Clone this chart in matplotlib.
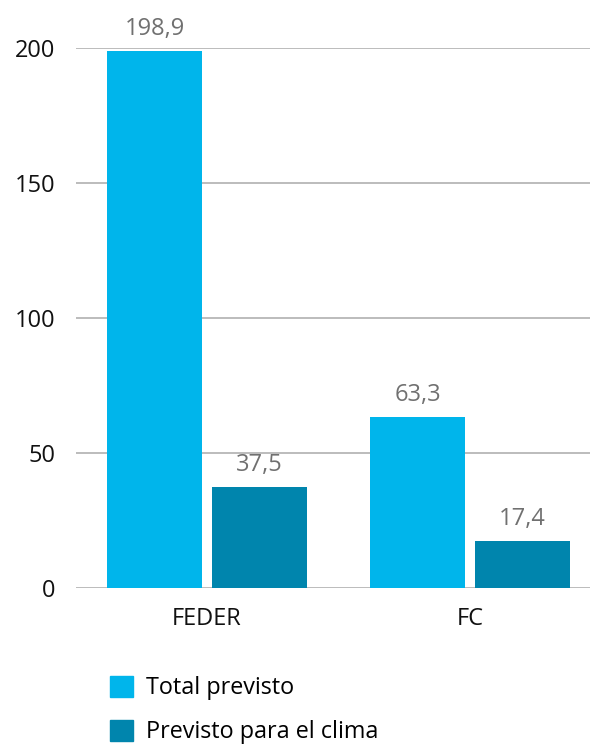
import numpy as np
import matplotlib.pyplot as plt
from matplotlib.patches import Patch

# datos
fondos = ['FEDER', 'FC']
total_previsto = [198.9, 63.3]
previsto_clima = [37.5, 17.4]
series = ['Total previsto', 'Previsto para el clima']
colores = ['#00B5EB', '#0085AD']

plt.rcParams['font.family'] = ['Open Sans', 'DejaVu Sans']

fig = plt.figure(figsize=(5.9, 7.45), dpi=100)
ax = fig.add_axes([0.129, 0.2107, 0.871, 0.7249])

x = np.arange(len(fondos))
w = 0.361
off = 0.2
b1 = ax.bar(x - off, total_previsto, w, color=colores[0], zorder=3)
b2 = ax.bar(x + off, previsto_clima, w, color=colores[1], zorder=3)

for bars, vals in [(b1, total_previsto), (b2, previsto_clima)]:
    for b, v in zip(bars, vals):
        ax.text(b.get_x() + b.get_width() / 2, v + 6, f'{v:.1f}'.replace('.', ','),
                ha='center', va='baseline', fontsize=17, color='#707070', clip_on=False)

ax.set_ylim(0, 200)
ax.set_xlim(-0.498, 1.456)
ax.set_yticks([0, 50, 100, 150, 200])
ax.set_xticks(x)
ax.set_xticklabels(fondos)
ax.tick_params(axis='both', length=0, labelsize=17, colors='#111111')
ax.tick_params(axis='y', pad=15)
ax.tick_params(axis='x', pad=14)
ax.grid(axis='y', color='#b0b0b0', linewidth=1.2, zorder=0)
ax.set_axisbelow(True)
for s in ax.spines.values():
    s.set_visible(False)

handles = [Patch(color=c) for c in colores]
fig.legend(handles, series, loc='upper left', bbox_to_anchor=(0.186, 0.093),
           frameon=False, fontsize=16.8, handlelength=1.0, handleheight=1.0,
           labelspacing=0.85, handletextpad=0.55, borderaxespad=0, borderpad=0)

fig.savefig('out.png', dpi=100)
